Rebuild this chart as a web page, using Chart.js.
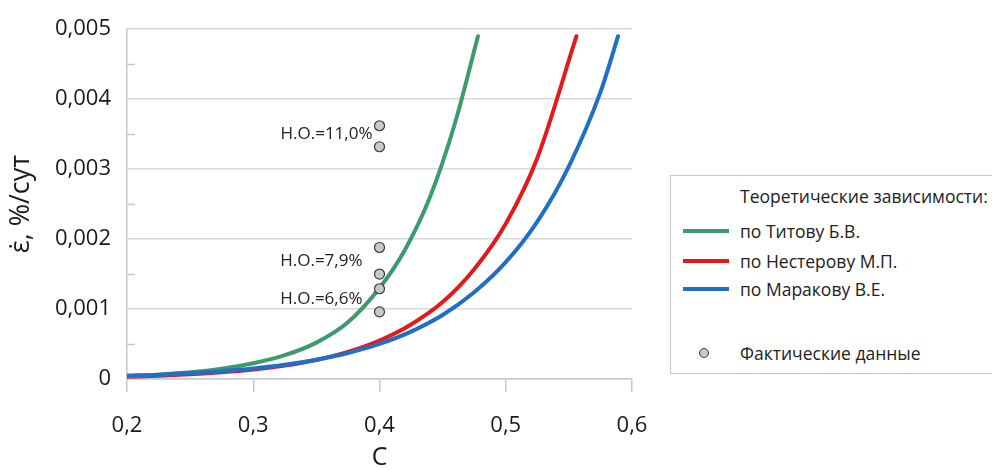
<!DOCTYPE html>
<html><head><meta charset="utf-8">
<script src="https://cdn.jsdelivr.net/npm/chart.js@4.4.0/dist/chart.umd.min.js"></script>
<style>
html,body{margin:0;padding:0;background:#fff;}
#wrap{position:relative;width:992px;height:470px;overflow:hidden;background:#fff;}
#c{position:absolute;left:0;top:0;}
#legend{position:absolute;left:670px;top:175px;width:340px;height:199px;border:1.5px solid #c8c8c8;box-sizing:border-box;font-family:'Open Sans',sans-serif;font-size:17.5px;color:#222;background:#fff;}
.row{position:absolute;left:69px;white-space:nowrap;transform:translateY(-50%);}
.sw{position:absolute;left:12px;width:46px;height:4px;margin-top:-2px;}
.dot{position:absolute;left:28px;width:8px;height:8px;margin-top:-5px;border-radius:50%;background:#c9c9c9;border:1px solid #3a3a3a;}
</style></head>
<body><div id="wrap"><canvas id="c" width="992" height="470"></canvas>
<div id="legend">
 <div class="row" style="top:20px">Теоретические зависимости:</div>
 <div class="sw" style="top:55px;background:#3c9b6c"></div><div class="row" style="top:55px">по Титову Б.В.</div>
 <div class="sw" style="top:85px;background:#e31a1c"></div><div class="row" style="top:85px">по Нестерову М.П.</div>
 <div class="sw" style="top:113px;background:#1f6fc8"></div><div class="row" style="top:113px">по Маракову В.Е.</div>
 <div class="dot" style="top:177px"></div><div class="row" style="top:177px">Фактические данные</div>
</div></div>
<script>
// Data
const titovC = [0.2, 0.225, 0.25, 0.275, 0.3, 0.325, 0.35, 0.375, 0.4, 0.42, 0.44, 0.46, 0.478];
const titovE = [0.00004, 0.000062, 0.000095, 0.000148, 0.000225, 0.00034, 0.00052, 0.00081, 0.0013, 0.00184, 0.0026, 0.00367, 0.0049];
const nesterovC = [0.2, 0.225, 0.25, 0.275, 0.3, 0.325, 0.35, 0.375, 0.4, 0.425, 0.45, 0.475, 0.5, 0.525, 0.556];
const nesterovE = [0.000033, 0.000047, 0.000067, 0.000095, 0.000135, 0.000192, 0.000272, 0.000387, 0.00055, 0.00078, 0.0011, 0.00157, 0.00222, 0.00316, 0.0049];
const marakovC = [0.2, 0.225, 0.25, 0.275, 0.3, 0.325, 0.35, 0.375, 0.4, 0.425, 0.45, 0.475, 0.5, 0.525, 0.55, 0.575, 0.589];
const marakovE = [0.00005, 0.000062, 0.000083, 0.000112, 0.000151, 0.000204, 0.000276, 0.000372, 0.000502, 0.000678, 0.000915, 0.00124, 0.00167, 0.00225, 0.00304, 0.0041, 0.0049];
const factC = [0.4, 0.4, 0.4, 0.4, 0.4, 0.4];
const factE = [0.00362, 0.00332, 0.00188, 0.0015, 0.00129, 0.00096];
const annotLabels = ['Н.О.=11,0%', 'Н.О.=7,9%', 'Н.О.=6,6%'];
const annotC = [0.4, 0.4, 0.4];
const annotE = [0.0035, 0.00168, 0.00114];
const xTicks = [0.2, 0.3, 0.4, 0.5, 0.6];
const yTicks = [0, 0.001, 0.002, 0.003, 0.004, 0.005];
const yMinor = [0.0005, 0.0015, 0.0025, 0.0035, 0.0045];

const pts = (xs, ys) => xs.map((x, i) => ({x, y: ys[i]}));
const FONT = "'Open Sans', sans-serif";

const annotPlugin = {
  id: 'annot',
  afterDatasetsDraw(chart) {
    const {ctx, scales: {x, y}, chartArea} = chart;
    ctx.save();
    ctx.strokeStyle = '#c8c8c8'; ctx.lineWidth = 1.5;
    yMinor.forEach(v => {
      const py = Math.round(y.getPixelForValue(v)) + 0.5;
      ctx.beginPath(); ctx.moveTo(chartArea.left, py); ctx.lineTo(chartArea.left + 8, py); ctx.stroke();
    });
    const offs = [7, 17, 17];
    ctx.font = "17px " + FONT; ctx.fillStyle = '#222';
    ctx.textAlign = 'right'; ctx.textBaseline = 'middle';
    annotLabels.forEach((t, i) => {
      ctx.fillText(t, x.getPixelForValue(annotC[i]) - offs[i], y.getPixelForValue(annotE[i]));
    });
    ctx.restore();
  }
};

const lineDs = (label, xs, ys, color, order) => ({
  type: 'line', label, data: pts(xs, ys), borderColor: color, backgroundColor: color,
  borderWidth: 4, pointRadius: 0, fill: false, cubicInterpolationMode: 'monotone',
  borderCapStyle: 'round', order
});

new Chart(document.getElementById('c'), {
  type: 'scatter',
  data: {
    datasets: [
      lineDs('по Титову Б.В.', titovC, titovE, '#3c9b6c', 2),
      lineDs('по Нестерову М.П.', nesterovC, nesterovE, '#e31a1c', 3),
      lineDs('по Маракову В.Е.', marakovC, marakovE, '#1f6fc8', 1),
      { type: 'scatter', label: 'Фактические данные', data: pts(factC, factE), showLine: false,
        pointRadius: 5, pointBackgroundColor: '#c9c9c9', pointBorderColor: '#3a3a3a', pointBorderWidth: 1.2, order: 0 }
    ]
  },
  options: {
    responsive: false, animation: false, devicePixelRatio: 1,
    layout: { padding: { left: 0, right: 360, top: 22, bottom: 0 } },
    plugins: { legend: { display: false }, tooltip: { enabled: false } },
    scales: {
      x: {
        type: 'linear', min: 0.2, max: 0.6,
        afterBuildTicks: s => { s.ticks = xTicks.map(v => ({value: v})); },
        ticks: { callback: v => v.toFixed(1).replace('.', ','), font: { family: FONT, size: 22 }, color: '#1a1a1a', padding: 21, maxRotation: 0 },
        grid: { drawOnChartArea: false, drawTicks: true, tickLength: 13, color: '#c8c8c8', lineWidth: 1.5 },
        border: { color: '#c8c8c8', width: 1.5 },
        title: { display: true, text: 'С', font: { family: FONT, size: 25, lineHeight: 1 }, color: '#1a1a1a', padding: 0 },
        afterFit: s => { s.height = 91; }
      },
      y: {
        type: 'linear', min: 0, max: 0.005,
        afterBuildTicks: s => { s.ticks = yTicks.map(v => ({value: v})); },
        ticks: { callback: v => v === 0 ? '0' : v.toFixed(3).replace('.', ','), font: { family: FONT, size: 22 }, color: '#1a1a1a', padding: 16 },
        grid: { color: '#d9d9d9', lineWidth: 1.5, drawTicks: false },
        border: { color: '#c8c8c8', width: 1.5 },
        title: { display: true, text: 'ε̇, %/сут', font: { family: FONT, size: 27 }, color: '#1a1a1a', padding: { top: 5, bottom: 0 } },
        afterFit: s => { s.width = 127; }
      }
    }
  },
  plugins: [annotPlugin]
});
</script></body></html>
